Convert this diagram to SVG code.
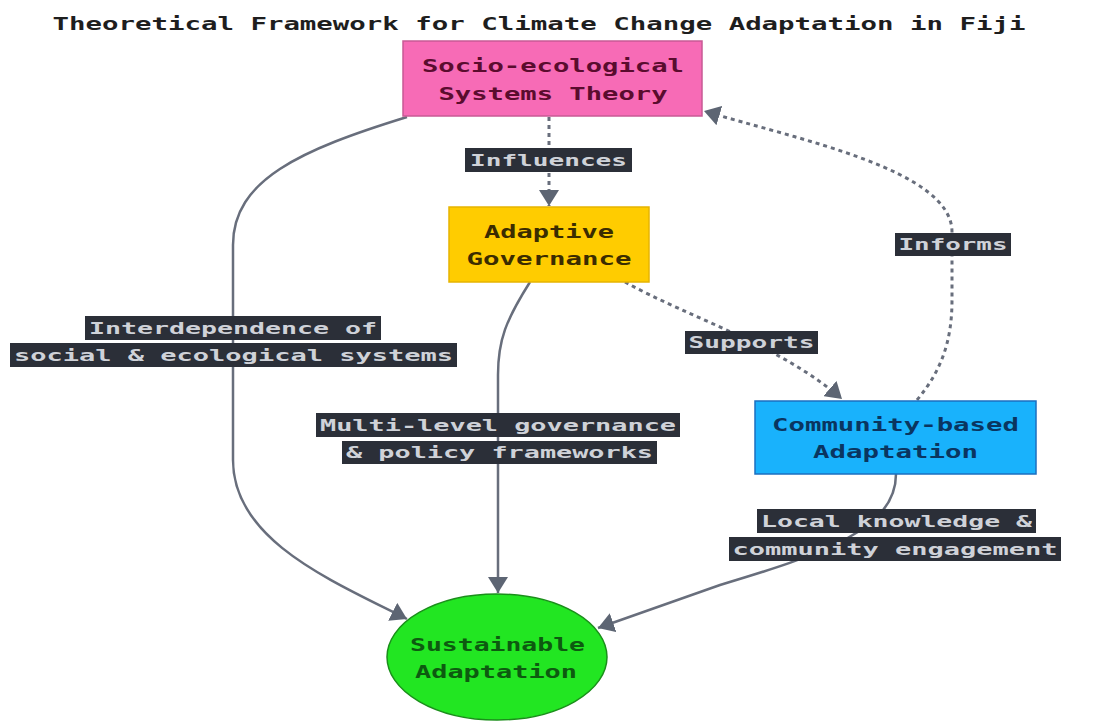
<svg xmlns="http://www.w3.org/2000/svg" width="1097" height="722" viewBox="0 0 1097 722">
<defs>
<style>
.t{font-family:"DejaVu Sans Mono","Liberation Mono",monospace;font-weight:bold;text-anchor:middle}
.title{font-size:18px;fill:#1e1e1e}
.nt{font-size:17px}
.lb{font-size:16px;fill:#cfd2d8}
.lbg{fill:#2b2f38}
.e{fill:none;stroke:#686e7c;stroke-width:2.5}
.d{stroke-dasharray:4 4;stroke-width:3}
</style>
<marker id="ah" viewBox="0 0 16 20" refX="16" refY="10" markerWidth="16" markerHeight="20" markerUnits="userSpaceOnUse" orient="auto">
<path d="M0,0 L16,10 L0,20 z" fill="#5d6573"/>
</marker>
</defs>
<rect width="1097" height="722" fill="#ffffff"/>
<text class="t title" x="539" y="30" textLength="973" lengthAdjust="spacingAndGlyphs">Theoretical Framework for Climate Change Adaptation in Fiji</text>

<g id="connectors">
<path class="e" d="M407,117 C300,150 233,180 233,245 L233,460 C233,540 330,580 407,619" marker-end="url(#ah)"/>
<path class="e d" d="M549,117 L549,206" marker-end="url(#ah)"/>
<path class="e" d="M530,282 C506,320 498,340 498,375 L498,593" marker-end="url(#ah)"/>
<path class="e d" d="M625,282 C690,318 780,345 842,399" marker-end="url(#ah)"/>
<path class="e d" d="M917,400 C942,370 952,340 952,300 L952,232 C952,170 800,140 704,111" marker-end="url(#ah)"/>
<path class="e" d="M896,474 C896,530 820,555 720,585 L598,628" marker-end="url(#ah)"/>
</g>

<g id="labels">
<rect class="lbg" x="465" y="148" width="167" height="24"/>
<text class="t lb" x="548.5" y="166" textLength="157" lengthAdjust="spacingAndGlyphs">Influences</text>
<rect class="lbg" x="85" y="316" width="296" height="24"/>
<text class="t lb" x="233" y="334" textLength="288" lengthAdjust="spacingAndGlyphs">Interdependence of</text>
<rect class="lbg" x="10" y="343" width="447" height="24"/>
<text class="t lb" x="233.5" y="361" textLength="439" lengthAdjust="spacingAndGlyphs">social &amp; ecological systems</text>
<rect class="lbg" x="316" y="413" width="364" height="24"/>
<text class="t lb" x="498" y="431" textLength="356" lengthAdjust="spacingAndGlyphs">Multi-level governance</text>
<rect class="lbg" x="342" y="441" width="315" height="23"/>
<text class="t lb" x="499.5" y="458" textLength="307" lengthAdjust="spacingAndGlyphs">&amp; policy frameworks</text>
<rect class="lbg" x="685" y="331" width="133" height="23"/>
<text class="t lb" x="751.5" y="348" textLength="126" lengthAdjust="spacingAndGlyphs">Supports</text>
<rect class="lbg" x="895" y="233" width="116" height="23"/>
<text class="t lb" x="953" y="250" textLength="109" lengthAdjust="spacingAndGlyphs">Informs</text>
<rect class="lbg" x="757" y="509" width="279" height="24"/>
<text class="t lb" x="896.5" y="527" textLength="271" lengthAdjust="spacingAndGlyphs">Local knowledge &amp;</text>
<rect class="lbg" x="729" y="537" width="332" height="24"/>
<text class="t lb" x="895" y="555" textLength="325" lengthAdjust="spacingAndGlyphs">community engagement</text>
</g>

<g id="socio">
<rect x="403" y="41" width="299" height="75" fill="#f76bb6" stroke="#c85a95" stroke-width="1.5"/>
<text class="t nt" x="553" y="72" fill="#5a0c2e" textLength="262" lengthAdjust="spacingAndGlyphs">Socio-ecological</text>
<text class="t nt" x="553" y="100" fill="#5a0c2e" textLength="229" lengthAdjust="spacingAndGlyphs">Systems Theory</text>
</g>
<g id="adaptive">
<rect x="449" y="207" width="200" height="75" fill="#ffcc00" stroke="#e6b400" stroke-width="1.5"/>
<text class="t nt" x="549" y="238" fill="#3b2c00" textLength="130" lengthAdjust="spacingAndGlyphs">Adaptive</text>
<text class="t nt" x="549" y="265" fill="#3b2c00" textLength="165" lengthAdjust="spacingAndGlyphs">Governance</text>
</g>
<g id="community">
<rect x="755" y="401" width="281" height="73" fill="#19b2fc" stroke="#1b6fc0" stroke-width="1.5"/>
<text class="t nt" x="895.5" y="431" fill="#0a3560" textLength="247" lengthAdjust="spacingAndGlyphs">Community-based</text>
<text class="t nt" x="895.5" y="458" fill="#0a3560" textLength="165" lengthAdjust="spacingAndGlyphs">Adaptation</text>
</g>
<g id="sustainable">
<ellipse cx="497" cy="657" rx="110" ry="63" fill="#22e622" stroke="#1a8f1a" stroke-width="1.5"/>
<text class="t nt" x="497.5" y="651" fill="#0d5a10" textLength="175" lengthAdjust="spacingAndGlyphs">Sustainable</text>
<text class="t nt" x="496" y="678" fill="#0d5a10" textLength="162" lengthAdjust="spacingAndGlyphs">Adaptation</text>
</g>
</svg>
